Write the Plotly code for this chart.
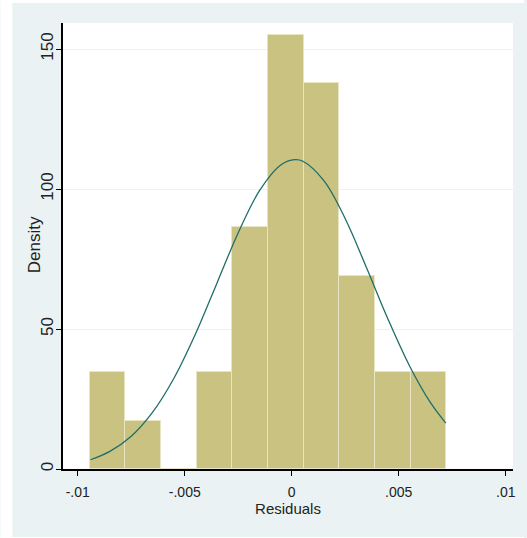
import plotly.graph_objects as go

# Histogram bins (residuals) and density heights
bin_start = -0.00944
bin_width = 0.001667
densities = [34.6, 17.3, 0, 34.6, 86.4, 155.0, 138.0, 69.0, 34.6, 34.6]

# Normal density overlay
curve_x = [-0.0094, -0.0085, -0.0075, -0.0065, -0.0055, -0.0045, -0.0035, -0.0025,
           -0.0015, -0.0005, 0.00015, 0.0005, 0.0015, 0.0025, 0.0035, 0.0045,
           0.0055, 0.0065, 0.0072]
curve_y = [3.3, 6.3, 11.7, 20.3, 32.5, 48.2, 66.3, 84.4, 99.5, 108.7, 110.5,
           110.0, 103.0, 89.4, 71.8, 53.5, 36.9, 23.5, 16.4]

x_tickvals = [-0.01, -0.005, 0, 0.005, 0.01]
x_ticktext = ["-.01", "-.005", "0", ".005", ".01"]
y_tickvals = [0, 50, 100, 150]
y_ticktext = ["0", "50", "100", "150"]

centers = [bin_start + bin_width * (i + 0.5) for i in range(len(densities))]

W, H = 527, 538
L, R, T, B = 63, 11, 23, 69
pw, ph = W - L - R, H - T - B

fig = go.Figure()
fig.add_trace(go.Bar(
    x=centers, y=densities, width=[bin_width] * len(densities),
    marker=dict(color="rgb(202,194,128)", line=dict(color="rgb(232,228,196)", width=1)),
    showlegend=False, hoverinfo="skip"))
fig.add_trace(go.Scatter(
    x=curve_x, y=curve_y, mode="lines", line=dict(color="rgb(30,110,105)", width=1.3, shape="spline"),
    showlegend=False, hoverinfo="skip"))

def px_x(p):
    return (p - L) / pw

def px_y(p):
    return (H - B - p) / ph

shapes = [
    dict(type="rect", xref="paper", yref="paper", layer="below",
         x0=px_x(0), x1=px_x(12), y0=px_y(H), y1=px_y(0),
         fillcolor="white", line=dict(width=0)),
    dict(type="rect", xref="paper", yref="paper", layer="below",
         x0=px_x(0), x1=px_x(W), y0=px_y(3), y1=px_y(0),
         fillcolor="white", line=dict(width=0)),
    dict(type="rect", xref="paper", yref="paper", layer="below",
         x0=px_x(0), x1=px_x(W), y0=px_y(H), y1=px_y(537),
         fillcolor="white", line=dict(width=0)),
]

font = dict(family="Liberation Sans, Arial, sans-serif", size=13, color="#222")

fig.update_layout(
    width=W, height=H,
    margin=dict(l=L, r=R, t=T, b=B, pad=0),
    paper_bgcolor="rgb(234,242,243)",
    plot_bgcolor="white",
    bargap=0,
    font=font,
    shapes=shapes,
    annotations=[dict(text="Density", xref="paper", yref="paper",
                      x=px_x(34), y=px_y(245), xanchor="center", yanchor="middle",
                      textangle=-90, showarrow=False, font=dict(size=17))],
    xaxis=dict(range=[-0.01069, 0.01034], tickvals=x_tickvals, ticktext=x_ticktext,
               showgrid=False, zeroline=False, showline=True, linecolor="black", linewidth=1.5,
               ticks="outside", ticklen=5, tickcolor="black", tickwidth=1,
               ticklabelstandoff=4,
               title=dict(text="Residuals", standoff=0, font=dict(size=15)),
               tickfont=dict(size=14)),
    yaxis=dict(range=[0, 159.3], tickvals=y_tickvals, ticktext=y_ticktext, tickangle=-90,
               showgrid=True, gridcolor="rgb(234,242,243)", gridwidth=1, zeroline=False,
               showline=True, linecolor="black", linewidth=1.5,
               ticks="outside", ticklen=5, tickcolor="black", tickwidth=1,
               ticklabelstandoff=-4,
               tickfont=dict(size=17)),
)

fig.write_html("out.html")
